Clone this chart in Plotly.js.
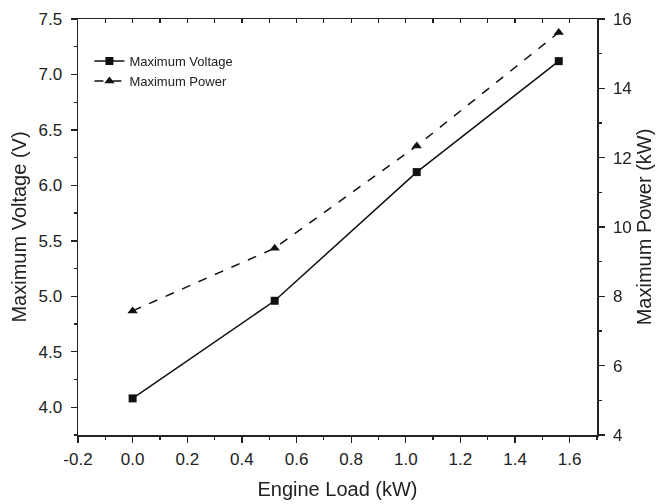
<!DOCTYPE html>
<html>
<head>
<meta charset="utf-8">
<script src="https://cdn.plot.ly/plotly-3.0.1.min.js"></script>
<style>html,body{margin:0;padding:0;background:#fff;}#chart{width:657px;height:504px;}</style>
</head>
<body>
<div id="chart"></div>
<script>
const engineLoad = [0.0, 0.52, 1.04, 1.56];
const maxVoltage = [4.08, 4.96, 6.12, 7.12];
const maxPower = [7.58, 9.39, 12.34, 15.61];

const xTickVals = [-0.2, 0, 0.2, 0.4, 0.6, 0.8, 1.0, 1.2, 1.4, 1.6];
const xTickText = ['-0.2', '0.0', '0.2', '0.4', '0.6', '0.8', '1.0', '1.2', '1.4', '1.6'];

const font = {family: 'Liberation Sans, Arial, sans-serif', color: '#222'};
const f = s => Object.assign({size: s}, font);

const traces = [
  {x: engineLoad, y: maxVoltage, name: 'Maximum Voltage', type: 'scatter', mode: 'lines+markers',
   line: {color: '#111', width: 1.5}, marker: {symbol: 'square', size: 8, color: '#111'}},
  {x: engineLoad, y: maxPower, name: 'Maximum Power', type: 'scatter', mode: 'lines+markers', yaxis: 'y2',
   line: {color: '#111', width: 1.5, dash: 'dash'}, marker: {symbol: 'triangle-up', size: 9, color: '#111'}},
  {x: engineLoad, y: maxVoltage, xaxis: 'x2', type: 'scatter', mode: 'markers', opacity: 0,
   showlegend: false, hoverinfo: 'skip'}
];

const axisLine = {showgrid: false, zeroline: false, showline: true, linecolor: '#222', linewidth: 1.5,
                  tickwidth: 1.3, tickcolor: '#222'};

const layout = {
  width: 657, height: 504,
  margin: {l: 78, r: 60, t: 19, b: 69},
  paper_bgcolor: '#fff', plot_bgcolor: '#fff',
  font: f(13),
  showlegend: true,
  legend: {x: 0.022, y: 0.935, xanchor: 'left', yanchor: 'top', bgcolor: 'rgba(0,0,0,0)',
           font: f(13), tracegroupgap: 0},
  xaxis: Object.assign({range: [-0.2, 1.7], tickmode: 'array', tickvals: xTickVals, ticktext: xTickText,
          ticks: 'outside', ticklen: 6, ticklabelstandoff: 2,
          minor: {dtick: 0.1, tick0: 0, ticklen: 3, ticks: 'outside', tickcolor: '#222', tickwidth: 1.3},
          tickfont: f(17),
          title: {text: 'Engine Load (kW)', font: f(20), standoff: 14}}, axisLine),
  xaxis2: Object.assign({range: [-0.2, 1.7], overlaying: 'x', side: 'top', anchor: 'y', dtick: 0.1, tick0: 0,
           showticklabels: false, ticks: 'inside', ticklen: 4}, axisLine),
  yaxis: Object.assign({range: [3.75, 7.5], dtick: 0.5, tick0: 4, tickformat: '.1f',
          ticks: 'outside', ticklen: 6, ticklabelstandoff: 5,
          minor: {dtick: 0.25, tick0: 4, ticklen: 3, ticks: 'outside', tickcolor: '#222', tickwidth: 1.3},
          tickfont: f(17),
          title: {text: 'Maximum Voltage (V)', font: f(20), standoff: 6}}, axisLine),
  yaxis2: Object.assign({range: [4, 16], dtick: 2, tick0: 4, overlaying: 'y', side: 'right',
           ticks: 'outside', ticklen: 6, ticklabelstandoff: 5,
           minor: {dtick: 1, tick0: 4, ticklen: 3, ticks: 'outside', tickcolor: '#222', tickwidth: 1.3},
           tickfont: f(17),
           title: {text: 'Maximum Power (kW)', font: f(20), standoff: 6}}, axisLine)
};

Plotly.newPlot('chart', traces, layout, {displayModeBar: false, staticPlot: true});
</script>
</body>
</html>
